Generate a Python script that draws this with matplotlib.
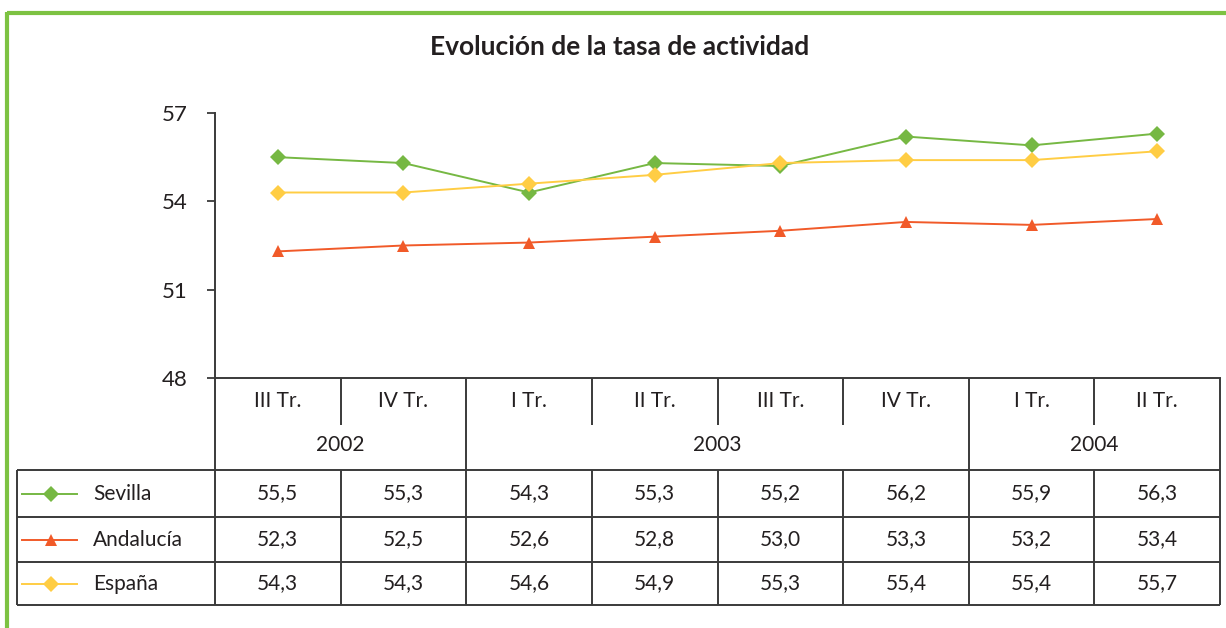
import matplotlib.pyplot as plt

# ------------------------------
# DATA
# ------------------------------
TITLE = "Evolución de la tasa de actividad"
quarters = ["III Tr.", "IV Tr.", "I Tr.", "II Tr.", "III Tr.", "IV Tr.", "I Tr.", "II Tr."]
years = ["2002", "2002", "2003", "2003", "2003", "2003", "2004", "2004"]
series_names = ["Sevilla", "Andalucía", "España"]
sevilla = [55.5, 55.3, 54.3, 55.3, 55.2, 56.2, 55.9, 56.3]
andalucia = [52.3, 52.5, 52.6, 52.8, 53.0, 53.3, 53.2, 53.4]
espana = [54.3, 54.3, 54.6, 54.9, 55.3, 55.4, 55.4, 55.7]
y_ticks = [48, 51, 54, 57]

# ------------------------------
# STYLE / LAYOUT (pixels)
# ------------------------------
W, H = 1226, 628
FONT = ["Lato", "DejaVu Sans"]
TXT = "#231f20"
GRID = "#3a3a3a"
FRAME_GREEN = "#7dc242"
colors = ["#76b843", "#f15a29", "#ffcd44"]
markers = ["D", "^", "D"]
msizes = [8, 9, 8]

X0, X1 = 215, 1220          # plot / table columns
Y_TOP, Y_BOT = 113, 378     # value axis 57 .. 48
ROW_LINES = [470, 517, 562, 605]
TABLE_LEFT = 17

plt.rcParams["font.family"] = FONT

fig = plt.figure(figsize=(W / 100, H / 100), dpi=100)

# overlay axes in pixel coordinates for frame, table and labels
ov = fig.add_axes([0, 0, 1, 1])
ov.set_xlim(0, W)
ov.set_ylim(H, 0)
ov.axis("off")

# main line chart
ax = fig.add_axes([X0 / W, (H - Y_BOT) / H, (X1 - X0) / W, (Y_BOT - Y_TOP) / H])
ax.patch.set_alpha(0)
n = len(quarters)
xs = list(range(n))
for vals, name, c, m, ms in zip([sevilla, andalucia, espana], series_names, colors, markers, msizes):
    ax.plot(xs, vals, color=c, lw=1.4, marker=m, markersize=ms,
            markeredgewidth=0, label=name, zorder=3)
ax.set_xlim(-0.5, n - 0.5)
ax.set_ylim(48, 57)
ax.set_yticks(y_ticks)
ax.set_yticklabels([str(t) for t in y_ticks], fontsize=16, color=TXT)
ax.set_xticks([])
ax.tick_params(axis="y", direction="out", length=6, width=1.3, color=GRID, pad=14)
for s in ["top", "right"]:
    ax.spines[s].set_visible(False)
for s in ["left", "bottom"]:
    ax.spines[s].set_color(GRID)
    ax.spines[s].set_linewidth(1.4)

# title
ov.text(620, 47, TITLE, ha="center", va="center",
        fontsize=19, fontweight="bold", color=TXT)

# green frame
ov.plot([7, 7], [12, H], color=FRAME_GREEN, lw=3, solid_capstyle="butt")
ov.plot([7, W], [12.5, 12.5], color=FRAME_GREEN, lw=3, solid_capstyle="butt")

# ------------------------------
# CATEGORY HEADER + DATA TABLE
# ------------------------------
col_w = (X1 - X0) / n
centers = [X0 + col_w * (i + 0.5) for i in range(n)]
edges = [X0 + col_w * i for i in range(n + 1)]

def hline(y, xa, xb):
    ov.plot([xa, xb], [y, y], color=GRID, lw=1.4, solid_capstyle="butt")

def vline(x, ya, yb):
    ov.plot([x, x], [ya, yb], color=GRID, lw=1.4, solid_capstyle="butt")

# quarter labels
for cx, q in zip(centers, quarters):
    ov.text(cx, 401, q, ha="center", va="center", fontsize=15, color=TXT)

# year groups
groups = []
for i, yr in enumerate(years):
    if groups and groups[-1][0] == yr:
        groups[-1][2] = i
    else:
        groups.append([yr, i, i])
for yr, a, b in groups:
    ov.text((edges[a] + edges[b + 1]) / 2, 445, yr, ha="center", va="center",
            fontsize=15, color=TXT)

# vertical lines in header
for i in range(1, n):
    if years[i] != years[i - 1]:
        vline(edges[i], Y_BOT, ROW_LINES[-1])
    else:
        vline(edges[i], Y_BOT, 425)
        vline(edges[i], ROW_LINES[0], ROW_LINES[-1])
vline(X0, Y_BOT, ROW_LINES[-1])
vline(X1, Y_BOT, ROW_LINES[-1])
vline(TABLE_LEFT, ROW_LINES[0], ROW_LINES[-1])

# horizontal table lines
for y in ROW_LINES:
    hline(y, TABLE_LEFT, X1)

# rows
for r, (vals, name, c, m, ms) in enumerate(zip([sevilla, andalucia, espana], series_names,
                                                colors, markers, msizes)):
    yc = (ROW_LINES[r] + ROW_LINES[r + 1]) / 2
    ov.plot([22, 77], [yc, yc], color=c, lw=1.4)
    ov.plot([51], [yc], color=c, marker=m, markersize=ms, markeredgewidth=0)
    ov.text(93, yc, name, ha="left", va="center", fontsize=15, color=TXT)
    for cx, v in zip(centers, vals):
        ov.text(cx, yc, f"{v:.1f}".replace(".", ","), ha="center", va="center",
                fontsize=15, color=TXT)

fig.savefig("out.png", dpi=100)
